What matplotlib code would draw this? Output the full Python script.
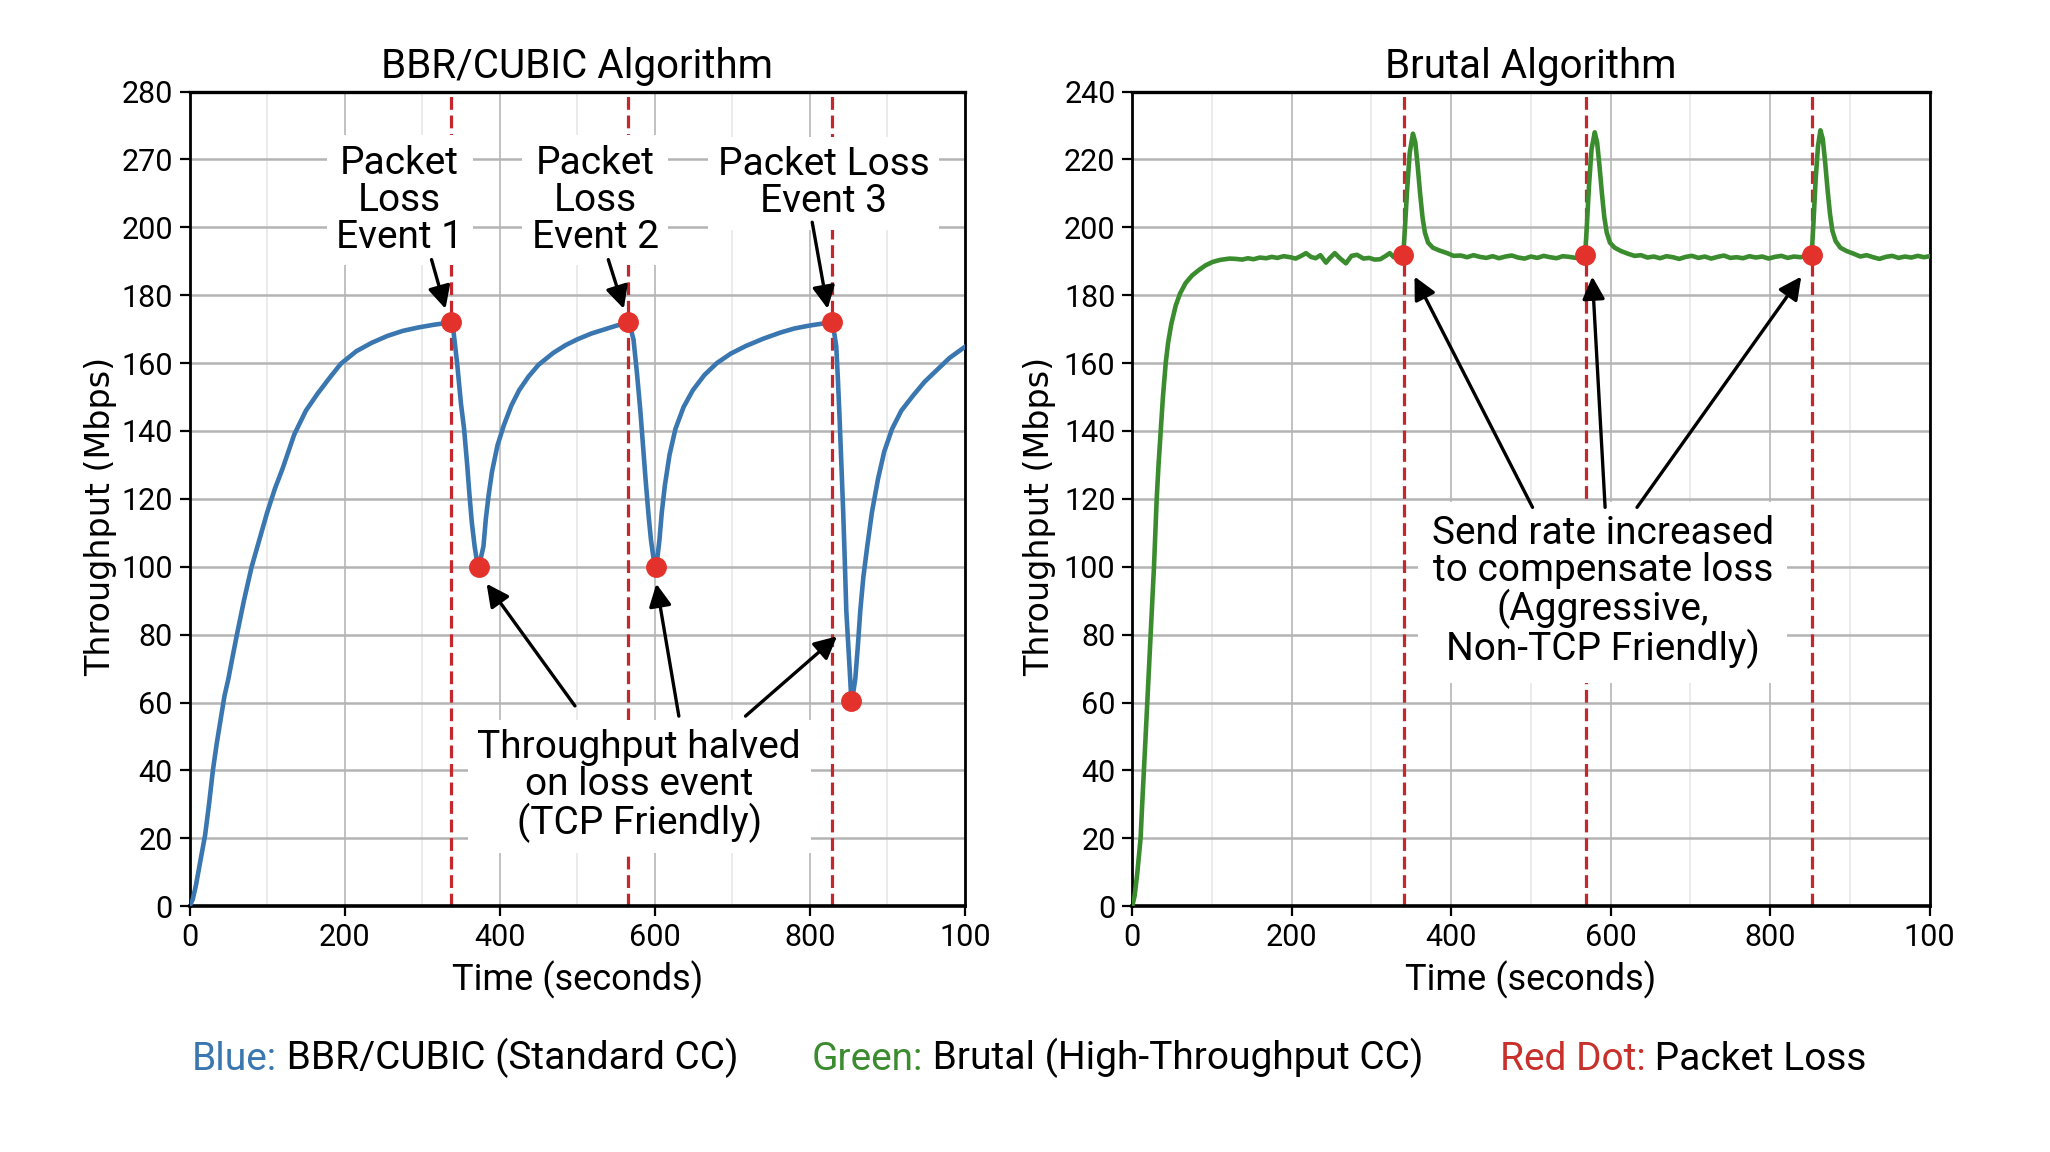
import matplotlib
matplotlib.use("Agg")
import matplotlib.pyplot as plt

plt.rcParams['font.family'] = ['Roboto', 'DejaVu Sans']

# --- data ---
bbr_time = [0, 4, 8, 12, 16, 20, 25, 30, 35, 40, 45, 50, 55, 61, 70, 80, 90, 100, 110, 120,
            135, 150, 165, 180, 195, 215, 235, 255, 275, 295, 315, 337,
            340, 345, 350, 354, 358, 361, 364, 367.6, 370, 373,
            376, 379, 382, 385.6, 390, 397, 405, 415, 425, 437, 450, 469, 485, 500, 518, 536, 550, 566,
            569, 572.5, 577, 581.5, 585, 588, 592, 595, 598, 601,
            603.5, 606, 609, 613, 619, 626.6, 637, 649, 664, 680, 698, 717, 740, 762, 780, 798, 812, 829,
            832, 834, 836, 838, 840.5, 843, 845, 847, 849.5, 852, 853.5,
            856, 858.6, 862, 865, 869, 874, 880, 888, 896, 906, 918, 933, 948, 964, 980, 1000]
bbr_mbps = [0, 2, 6, 11, 16, 21, 30, 40, 48, 55, 62, 67, 73, 80, 90, 100, 108, 116, 123, 129,
            139, 146, 151, 155.5, 159.8, 163.5, 166, 168, 169.5, 170.5, 171.3, 172,
            170, 160, 148, 140.6, 130, 121, 113, 106, 102.5, 100,
            103, 106, 114, 121, 128, 135.7, 141.5, 147.5, 152, 156, 159.5, 163, 165.3, 167, 168.7, 170, 171, 172,
            170, 167, 157, 145.5, 135, 126, 115, 108, 103, 100,
            103, 108, 116, 124, 133, 140.6, 147, 152, 156.5, 160, 162.8, 165, 167.2, 169, 170.2, 171, 171.5, 172,
            168, 165, 156, 145.5, 131, 116, 102, 87, 77, 67, 60.5,
            63, 67, 77, 87, 97, 106, 116, 126, 134, 140.6, 146, 150.4, 154.5, 158, 161.5, 164.8]
bbr_loss_time = [337, 566, 829]
bbr_dot_time = [337, 373, 566, 601, 829, 853.5]
bbr_dot_mbps = [172, 100, 172, 100, 172, 60.5]

brutal_time = [0, 3, 6.3, 8.5, 10.5, 12.5, 14.7, 16.8, 18.9, 21, 23.1, 25.2, 27.3, 29, 30.7, 33, 35.7,
               38.5, 42, 45, 49, 54.6, 60, 67, 75, 84, 92, 100.8, 110, 122,
               130, 138, 145, 152, 160, 168, 175, 182, 190, 198, 205, 212, 218, 224, 230, 236, 243,
               248, 254, 260, 268, 275, 282, 290, 297, 304, 311, 318, 323, 328, 334, 340,
               342, 345, 348, 352, 355, 358, 361, 364, 367, 371, 377, 385, 395, 403, 412, 420, 428,
               436, 444, 452, 460, 468, 476, 484, 492, 500, 508, 516, 524, 532, 540, 548, 556, 562, 568,
               570, 573, 576, 580, 583, 586, 589, 592, 595, 599, 605, 613, 622, 630, 638, 646, 654,
               662, 670, 678, 686, 694, 702, 710, 718, 726, 734, 742, 750, 758, 766, 774, 782, 790,
               798, 806, 814, 822, 830, 838, 846, 852,
               854, 857, 860, 863, 866, 869, 872, 875, 878, 882, 888, 896, 905, 913, 921, 929, 937,
               945, 953, 961, 969, 977, 985, 993, 1000]
brutal_mbps = [0, 3, 9.6, 15, 20, 30, 40, 50, 60, 70, 80, 90, 100, 110, 120, 130, 140,
               150, 160, 166, 171.5, 177, 180.5, 183.6, 185.8, 187.5, 188.8, 189.8, 190.4, 190.8,
               190.7, 190.5, 190.9, 190.6, 191.1, 190.9, 191.3, 191.0, 191.5, 191.2, 190.8, 191.6, 192.4,
               191.3, 190.9, 191.8, 189.6, 191.0, 192.4, 191.0, 189.4, 191.6, 191.9, 190.8, 191.0, 190.5,
               190.6, 191.6, 192.4, 191.2, 191.6, 191.9,
               200, 212, 222, 227.6, 225, 218, 210, 203, 198.5, 195.5, 194, 193.2, 192.4, 191.6, 191.7,
               191.2, 191.8, 191.3, 191.0, 191.5, 190.9, 191.4, 191.7, 191.1, 190.8, 191.4, 191.0, 191.6,
               191.2, 190.9, 191.5, 191.3, 191.0, 191.6, 191.9,
               200, 213, 223, 228, 225, 218, 210, 203, 198.5, 195.5, 194, 193, 192.2, 191.6, 191.8,
               191.1, 191.4, 190.9, 191.5, 191.2, 190.7, 191.3, 191.6, 191.0, 191.4, 190.8, 191.3, 191.7,
               191.0, 191.2, 190.9, 191.5, 191.1, 191.4, 190.8, 191.3, 191.6, 191.0, 191.4, 191.2, 191.6,
               191.9,
               200, 214, 224, 228.6, 226, 219, 211, 204, 199, 196, 194, 193, 192.2, 191.4, 191.8, 191.2,
               190.7, 191.3, 191.6, 191.0, 191.4, 191.1, 191.6, 191.2, 191.5]
brutal_loss_time = [341, 569, 852]
brutal_dot_time = [340, 568, 852]
brutal_dot_mbps = [191.9, 191.9, 191.9]

y_ticks = [0, 20, 40, 60, 80, 100, 120, 140, 160, 180, 200, 220, 240]
left_y_labels = ['0', '20', '40', '60', '80', '100', '120', '140', '160', '180', '200', '270', '280']
right_y_labels = ['0', '20', '40', '60', '80', '100', '120', '140', '160', '180', '200', '220', '240']
x_ticks = [0, 200, 400, 600, 800, 1000]
x_labels = ['0', '200', '400', '600', '800', '100']

BLUE = '#3a76af'
GREEN = '#3b8c2f'
RED_DOT = '#e3322b'
RED_LINE = '#c4272c'

fig = plt.figure(figsize=(20.5, 11.52), dpi=100)
ax1 = fig.add_axes([0.0925, 0.2134, 0.3782, 0.7071])
ax2 = fig.add_axes([0.5523, 0.2134, 0.3890, 0.7071])


def style_axes(ax, ylabels, title, ylab_x):
    ax.set_xlim(0, 1000)
    ax.set_ylim(0, 240)
    ax.set_xticks(x_ticks)
    ax.set_xticklabels(x_labels)
    ax.set_xticks([100, 300, 500, 700, 900], minor=True)
    ax.set_yticks(y_ticks)
    ax.set_yticklabels(ylabels)
    ax.tick_params(axis='both', which='major', labelsize=22, length=7, width=1.6, pad=5)
    ax.tick_params(axis='x', which='minor', length=0)
    ax.grid(axis='y', which='major', color='#b4b4b4', lw=1.8, zorder=0)
    ax.grid(axis='x', which='major', color='#b0b0b0', lw=1.1, zorder=0)
    ax.grid(axis='x', which='minor', color='#e6e6e6', lw=1.1, zorder=0)
    ax.set_axisbelow(True)
    for s in ax.spines.values():
        s.set_linewidth(2.0)
    ax.spines['bottom'].set_linewidth(2.6)
    ax.spines['top'].set_linewidth(2.4)
    ax.set_title(title, fontsize=29, pad=10)
    ax.set_xlabel('Time (seconds)', fontsize=26, labelpad=6.5)
    ax.set_ylabel('Throughput (Mbps)', fontsize=24, family='DejaVu Sans')
    ax.yaxis.set_label_coords(ylab_x, 0.478)


style_axes(ax1, left_y_labels, 'BBR/CUBIC Algorithm', -0.093)
style_axes(ax2, right_y_labels, 'Brutal Algorithm', -0.095)

box = dict(boxstyle='square,pad=0.25', fc='white', ec='none')
arrow = dict(arrowstyle='-|>', color='black', lw=2.4, mutation_scale=34, shrinkA=0, shrinkB=0)
FS = 28
LS = 1.0

# left panel
for t in bbr_loss_time:
    ax1.axvline(t, color=RED_LINE, lw=2.3, linestyle=(0, (4, 1.8)), zorder=2)
ax1.plot(bbr_time, bbr_mbps, color=BLUE, lw=3.3, zorder=4)
ax1.plot(bbr_dot_time, bbr_dot_mbps, 'o', color=RED_DOT, ms=14, zorder=6)

ax1.text(271, 208, 'Packet\nLoss\nEvent 1', ha='center', va='center', fontsize=FS,
         linespacing=LS, bbox=box, zorder=5)
ax1.text(523, 208, 'Packet\nLoss\nEvent 2', ha='center', va='center', fontsize=FS,
         linespacing=LS, bbox=box, zorder=5)
ax1.text(818, 213, 'Packet Loss\nEvent 3', ha='center', va='center', fontsize=FS,
         linespacing=LS, bbox=box, zorder=5)
ax1.annotate('', xy=(330, 176), xytext=(312, 190.5), arrowprops=arrow, zorder=7)
ax1.annotate('', xy=(560, 176), xytext=(540, 190.5), arrowprops=arrow, zorder=7)
ax1.annotate('', xy=(823, 176), xytext=(803, 201.5), arrowprops=arrow, zorder=7)

ax1.text(580, 35.5, 'Throughput halved\non loss event\n(TCP Friendly)', ha='center', va='center',
         fontsize=FS, linespacing=LS, bbox=box, zorder=5)
ax1.annotate('', xy=(383, 95), xytext=(497, 59), arrowprops=arrow, zorder=7)
ax1.annotate('', xy=(602, 95), xytext=(631, 56), arrowprops=arrow, zorder=7)
ax1.annotate('', xy=(835, 79.5), xytext=(717, 56), arrowprops=arrow, zorder=7)

# right panel
for t in brutal_loss_time:
    ax2.axvline(t, color=RED_LINE, lw=2.3, linestyle=(0, (4, 1.8)), zorder=2)
ax2.plot(brutal_time, brutal_mbps, color=GREEN, lw=3.3, zorder=4)
ax2.plot(brutal_dot_time, brutal_dot_mbps, 'o', color=RED_DOT, ms=14, zorder=6)

ax2.text(590, 92.5, 'Send rate increased\nto compensate loss\n(Aggressive,\nNon-TCP Friendly)',
         ha='center', va='center', fontsize=FS, linespacing=LS,
         bbox=dict(boxstyle='square,pad=0.35', fc='white', ec='none'), zorder=5)
ax2.annotate('', xy=(354, 185.5), xytext=(502, 117.5), arrowprops=arrow, zorder=7)
ax2.annotate('', xy=(577, 185.5), xytext=(593, 117.5), arrowprops=arrow, zorder=7)
ax2.annotate('', xy=(839, 185.5), xytext=(633, 117.5), arrowprops=arrow, zorder=7)

# colour key along the bottom
key = [(0.0937, 'Blue:', BLUE, ' BBR/CUBIC (Standard CC)'),
       (0.396, 'Green:', GREEN, ' Brutal (High-Throughput CC)'),
       (0.7315, 'Red Dot:', '#c8302c', ' Packet Loss')]
fig.canvas.draw()
inv = fig.transFigure.inverted()
for x, head, col, rest in key:
    t1 = fig.text(x, 0.0716, head, color=col, fontsize=28, va='baseline')
    bb = t1.get_window_extent(renderer=fig.canvas.get_renderer())
    x2 = inv.transform((bb.x1, bb.y0))[0]
    fig.text(x2, 0.0716, rest, color='black', fontsize=28, va='baseline')

fig.savefig('out.png', dpi=100, facecolor='white')
